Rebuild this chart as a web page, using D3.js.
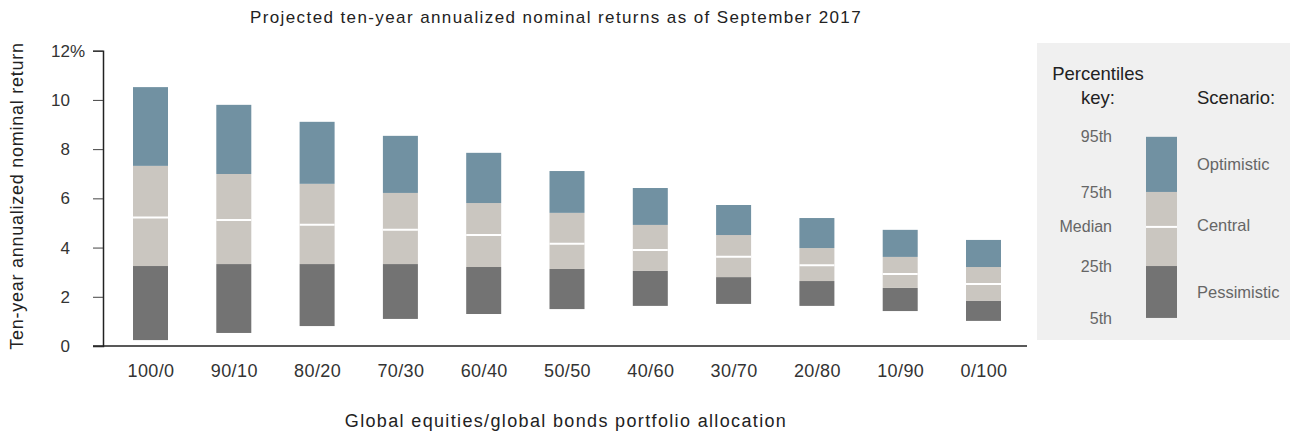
<!DOCTYPE html>
<html>
<head>
<meta charset="utf-8">
<script src="https://cdn.jsdelivr.net/npm/d3@7"></script>
<style>
	body { margin: 0; background: #fff; }
	text { font-family: "Liberation Sans", Arial, sans-serif; }
</style>
</head>
<body>
<div id="chart"></div>
<script>

// data
let categories = ['100/0','90/10','80/20','70/30','60/40','50/50','40/60','30/70','20/80','10/90','0/100']
let p5     = [0.24, 0.53, 0.81, 1.10, 1.30, 1.50, 1.63, 1.71, 1.63, 1.42, 1.02]
let p25    = [3.25, 3.33, 3.33, 3.33, 3.21, 3.13, 3.05, 2.80, 2.64, 2.36, 1.83]
let median = [5.22, 5.12, 4.93, 4.72, 4.51, 4.16, 3.90, 3.63, 3.28, 2.93, 2.52]
let p75    = [7.32, 6.99, 6.59, 6.22, 5.81, 5.41, 4.92, 4.51, 3.98, 3.62, 3.21]
let p95    = [10.52, 9.80, 9.11, 8.54, 7.85, 7.11, 6.42, 5.73, 5.20, 4.72, 4.31]
let yTicks = [0, 2, 4, 6, 8, 10, 12]

// key bar (illustrative values, drawn on the same y scale)
let keyValues  = [1.14, 3.25, 4.84, 6.26, 8.5]
let keyLabels  = ['5th', '25th', 'Median', '75th', '95th']
let scenarios  = ['Pessimistic', 'Central', 'Optimistic']

let colors = { top: '#7191a2', mid: '#cac6c0', low: '#737373' }

let width = 1290
let height = 435

let svg = d3.select('#chart').append('svg').attr('width', width).attr('height', height)

let y = d3.scaleLinear().domain([0, 12]).range([346, 50.7])
let x = d3.scalePoint().domain(categories).range([150.5, 983.5])
let barW = 35
let axisX = 103

let rows = categories.map((c, i) => ({ c, p5: p5[i], p25: p25[i], med: median[i], p75: p75[i], p95: p95[i] }))

// title
svg.append('text').attr('x', 556).attr('y', 23).attr('text-anchor', 'middle')
	.style('font-size', '17px').style('letter-spacing', '1.4px').attr('fill', '#222')
	.text('Projected ten-year annualized nominal returns as of September 2017')

// bars
let bars = svg.append('g')
bars.selectAll('.low').data(rows).enter().append('rect')
	.attr('x', d => x(d.c) - barW / 2).attr('width', barW)
	.attr('y', d => y(d.p25)).attr('height', d => y(d.p5) - y(d.p25))
	.attr('fill', colors.low)
bars.selectAll('.mid').data(rows).enter().append('rect')
	.attr('x', d => x(d.c) - barW / 2).attr('width', barW)
	.attr('y', d => y(d.p75)).attr('height', d => y(d.p25) - y(d.p75))
	.attr('fill', colors.mid)
bars.selectAll('.top').data(rows).enter().append('rect')
	.attr('x', d => x(d.c) - barW / 2).attr('width', barW)
	.attr('y', d => y(d.p95)).attr('height', d => y(d.p75) - y(d.p95))
	.attr('fill', colors.top)
bars.selectAll('.med').data(rows).enter().append('line')
	.attr('x1', d => x(d.c) - barW / 2).attr('x2', d => x(d.c) + barW / 2)
	.attr('y1', d => y(d.med)).attr('y2', d => y(d.med))
	.attr('stroke', '#fff').attr('stroke-width', 2)

// y axis
let yAxis = d3.axisLeft(y).tickValues(yTicks).tickSize(10).tickPadding(23).tickFormat(d3.format('d'))
let gy = svg.append('g').attr('transform', `translate(${axisX},0)`).call(yAxis)
gy.select('.domain').attr('stroke', '#222').attr('stroke-width', 1.5)
gy.selectAll('.tick line').attr('stroke', '#444')
gy.selectAll('.tick text').style('font-size', '17px').attr('fill', '#333').style('font-family', '"Liberation Sans", Arial, sans-serif')
gy.selectAll('.tick').filter(d => d == 12).append('text')
	.attr('x', -33).attr('dy', '0.32em').attr('text-anchor', 'start')
	.style('font-size', '17px').attr('fill', '#333').text('%')

// x axis
let xAxis = d3.axisBottom(x).tickSize(0).tickPadding(18)
let gx = svg.append('g').attr('transform', `translate(0,${y(0)})`).call(xAxis)
gx.select('.domain').remove()
gx.selectAll('.tick text').style('font-size', '18px').style('letter-spacing', '0.4px').attr('fill', '#333').style('font-family', '"Liberation Sans", Arial, sans-serif')
svg.append('line').attr('x1', axisX - 10).attr('x2', 1027).attr('y1', y(0)).attr('y2', y(0))
	.attr('stroke', '#222').attr('stroke-width', 1.5)

// axis titles
svg.append('text').attr('transform', `translate(23,${196}) rotate(-90)`).attr('text-anchor', 'middle')
	.style('font-size', '18px').style('letter-spacing', '0.75px').attr('fill', '#222').text('Ten-year annualized nominal return')
svg.append('text').attr('x', 566).attr('y', 427).attr('text-anchor', 'middle')
	.style('font-size', '18px').style('letter-spacing', '1.35px').attr('fill', '#222').text('Global equities/global bonds portfolio allocation')

// key panel
let key = svg.append('g')
key.append('rect').attr('x', 1037).attr('y', 43).attr('width', 253).attr('height', 297).attr('fill', '#f0f0f0')
key.append('text').attr('x', 1098).attr('y', 80).attr('text-anchor', 'middle')
	.style('font-size', '18.5px').attr('fill', '#222').text('Percentiles')
key.append('text').attr('x', 1098).attr('y', 104).attr('text-anchor', 'middle')
	.style('font-size', '18.5px').attr('fill', '#222').text('key:')
key.append('text').attr('x', 1197).attr('y', 104)
	.style('font-size', '18.5px').attr('fill', '#222').text('Scenario:')

let kx = 1146, kw = 31
let ky = d3.scaleLinear().domain(y.domain()).range(y.range())
let segs = [[0, 1, colors.low], [1, 3, colors.mid], [3, 4, colors.top]]
key.selectAll('.kseg').data(segs).enter().append('rect')
	.attr('x', kx).attr('width', kw)
	.attr('y', d => ky(keyValues[d[1]])).attr('height', d => ky(keyValues[d[0]]) - ky(keyValues[d[1]]))
	.attr('fill', d => d[2])
key.append('line').attr('x1', kx).attr('x2', kx + kw)
	.attr('y1', ky(keyValues[2])).attr('y2', ky(keyValues[2]))
	.attr('stroke', '#fff').attr('stroke-width', 2)

key.selectAll('.klab').data(keyLabels).enter().append('text')
	.attr('x', 1112).attr('y', (d, i) => ky(keyValues[i])).attr('dy', '0.35em')
	.attr('text-anchor', 'end').style('font-size', '16px').attr('fill', '#666').text(d => d)

let scenY = [(ky(keyValues[0]) + ky(keyValues[1])) / 2, ky(keyValues[2]) - 2, (ky(keyValues[3]) + ky(keyValues[4])) / 2]
key.selectAll('.scen').data(scenarios).enter().append('text')
	.attr('x', 1197).attr('y', (d, i) => scenY[i]).attr('dy', '0.35em')
	.style('font-size', '16.5px').attr('fill', '#666').text(d => d)

</script>
</body>
</html>
